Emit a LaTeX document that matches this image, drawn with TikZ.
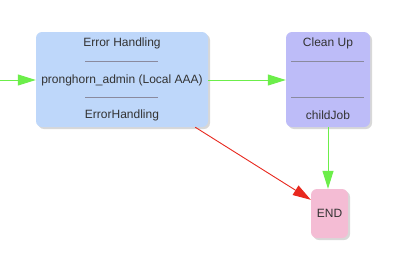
\documentclass[tikz,border=0pt]{standalone}
\usepackage{fontspec}
\setmainfont{Liberation Sans}
\usetikzlibrary{arrows.meta,shadows,calc}
\definecolor{ehfill}{HTML}{BED7FA}
\definecolor{cufill}{HTML}{BDBCF8}
\definecolor{endfill}{HTML}{F4BCD4}
\definecolor{txt}{HTML}{333333}
\definecolor{sep}{HTML}{8A8A9E}
\definecolor{gline}{HTML}{6CEE4A}
\definecolor{rline}{HTML}{E8281E}
\tikzset{
  box/.style={rectangle, rounded corners=6pt, draw=none, inner sep=0pt,
    drop shadow={shadow xshift=2pt, shadow yshift=-2pt, opacity=0.25, fill=black!60}},
  lbl/.style={text=txt, font=\fontsize{12}{14}\selectfont, inner sep=0pt},
  sepline/.style={draw=sep, line width=1pt},
  garrow/.style={draw=gline, line width=1pt, -{Triangle[length=18pt,width=11pt]}},
  rarrow/.style={draw=rline, line width=0.9pt, -{Triangle[length=18pt,width=11pt]}},
}
\begin{document}
\begin{tikzpicture}[x=1pt,y=-1pt]
\useasboundingbox[fill=white] (0,0) rectangle (402,268);
% boxes
\node[box, fill=ehfill, minimum width=172pt, minimum height=95pt] (EH) at (122,79.5) {};
\node[box, fill=cufill, minimum width=84pt, minimum height=95pt] (CU) at (328,79.5) {};
\node[box, fill=endfill, minimum width=37pt, minimum height=49pt] (END) at (329.5,213.5) {};
% Error Handling contents
\node[lbl] (ehtitle) at (122,43) {Error Handling};
\draw[sepline] (85,61) -- (158,61);
\node[lbl] (ehuser) at (122,80) {pronghorn\_admin (Local AAA)};
\draw[sepline] (85,97) -- (158,97);
\node[lbl] (ehname) at (122,115) {ErrorHandling};
% Clean Up contents
\node[lbl] (cutitle) at (328,43) {Clean Up};
\draw[sepline] (291,61) -- (364,61);
\draw[sepline] (291,97) -- (364,97);
\node[lbl] (cuname) at (328,115) {childJob};
% END
\node[lbl] (endlbl) at (329.5,213.5) {END};
% connectors
\coordinate (start) at (0,80);
\draw[garrow] (start) -- (EH.west |- start);
\draw[garrow] (EH.east |- start) -- (CU.west |- start);
\draw[garrow] (CU.south) -- (CU.south |- END.north);
\draw[rarrow] ($(EH.south east)+(-13,0)$) -- ($(END.north west)+(0,11)$);
\end{tikzpicture}
\end{document}
